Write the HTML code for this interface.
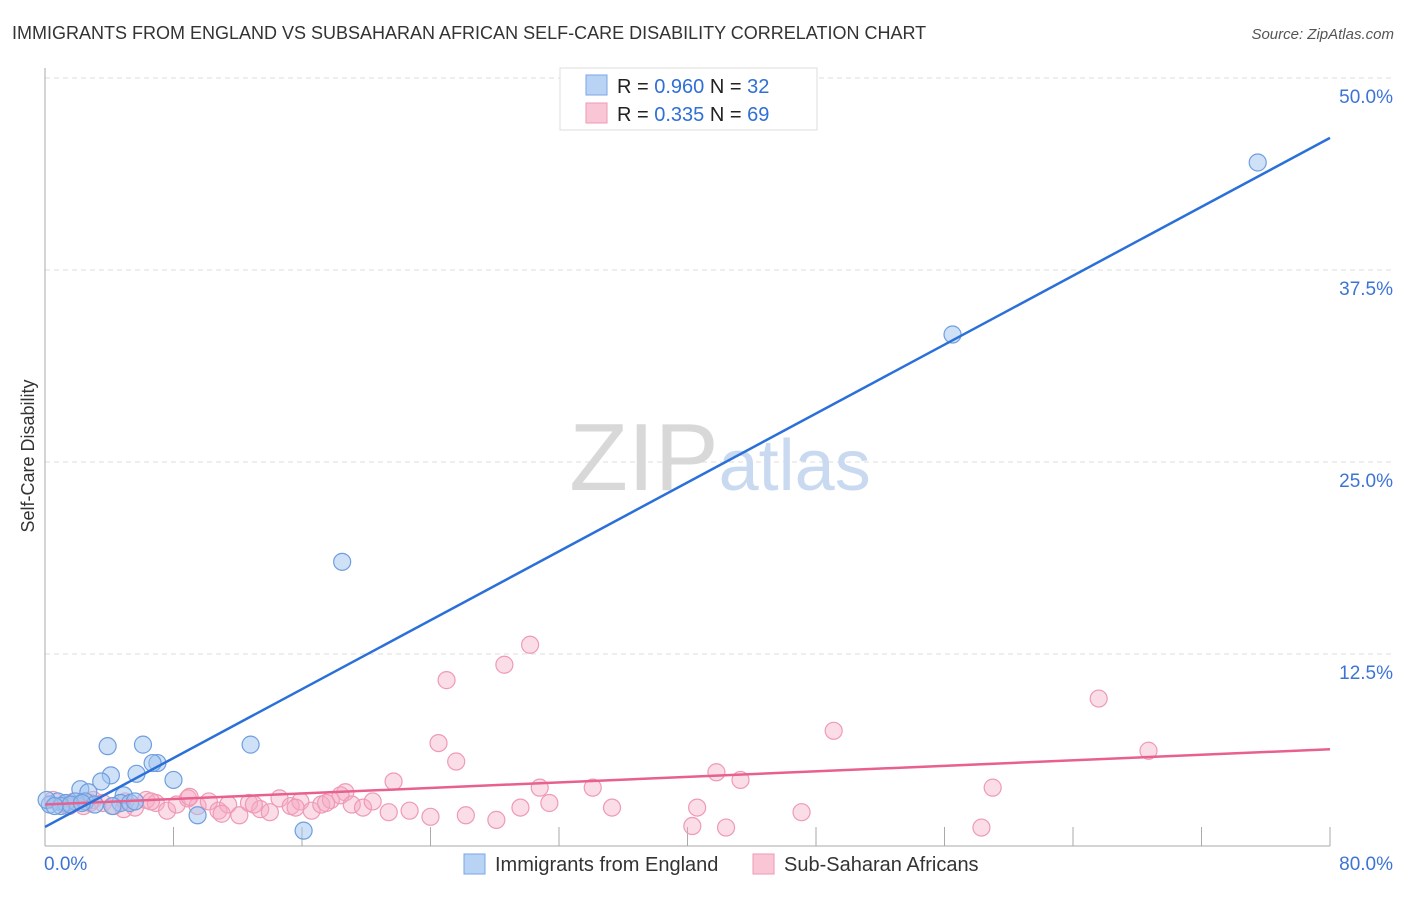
<!DOCTYPE html>
<html><head><meta charset="utf-8"><style>
body{margin:0;background:#fff;font-family:"Liberation Sans",sans-serif}
svg text{font-family:"Liberation Sans",sans-serif}
</style></head><body>
<svg id="chart" width="1406" height="892" xmlns="http://www.w3.org/2000/svg">
<text x="12" y="39" font-size="18" fill="#333">IMMIGRANTS FROM ENGLAND VS SUBSAHARAN AFRICAN SELF-CARE DISABILITY CORRELATION CHART</text>
<text x="1394" y="39" font-size="15" fill="#555" font-style="italic" text-anchor="end">Source: ZipAtlas.com</text>
<g id="grid"></g>
<g id="axes"></g>
<text x="720" y="490" font-size="96" fill="#ddd" text-anchor="middle" font-family="Liberation Serif"><tspan fill="#d8d8d8">ZIP</tspan><tspan fill="#c9daf0" font-family="Liberation Sans" font-size="72">atlas</tspan></text>
<g id="marks"></g>
<text x="34" y="456" font-size="18" fill="#333" text-anchor="middle" transform="rotate(-90 34 456)">Self-Care Disability</text>
<g>
<rect x="560" y="68" width="257" height="62" fill="#fff" stroke="#ddd"/>
<rect x="586" y="75" width="21" height="20" fill="#b9d3f5" stroke="#7aa6e6"/>
<text x="617" y="93" font-size="20" fill="#222">R = <tspan fill="#2f6fd6">0.960</tspan>   N = <tspan fill="#2f6fd6">32</tspan></text>
<rect x="586" y="103" width="21" height="20" fill="#f9c6d6" stroke="#ee99b4"/>
<text x="617" y="121" font-size="20" fill="#222">R = <tspan fill="#2f6fd6"> 0.335</tspan>   N = <tspan fill="#2f6fd6">69</tspan></text>
</g>
<g>
<rect x="464" y="854" width="21" height="20" fill="#b9d3f5" stroke="#7aa6e6"/>
<text x="495" y="871" font-size="20" fill="#333">Immigrants from England</text>
<rect x="753" y="854" width="21" height="20" fill="#f9c6d6" stroke="#ee99b4"/>
<text x="784" y="871" font-size="20" fill="#333">Sub-Saharan Africans</text>
</g>
</svg>
<script>
const yTicks=[12.5,25,37.5,50];
const yTickLabels=["12.5%","25.0%","37.5%","50.0%"];
const xTicks=[8,16,24,32,40,48,56,64,72,80];
const englandX=[75.5,56.5,18.5,12.8,3.9,6.1,7.0,6.7,5.7,4.1,8.0,3.5,2.2,4.9,2.7,9.5,16.1,0.8,1.3,1.9,2.5,4.7,0.3,0.1,1.0,3.1,5.3,1.6,0.6,2.3,4.2,5.6];
const englandY=[44.5,33.3,18.5,6.6,6.5,6.6,5.4,5.4,4.7,4.6,4.3,4.2,3.7,3.3,3.5,2.0,1.0,2.9,2.8,2.9,2.9,2.8,2.7,3.0,2.6,2.7,2.8,2.7,2.6,2.8,2.6,2.9];
const africanX=[30.2,28.6,25.0,65.6,49.1,24.5,68.7,25.6,41.8,43.3,21.7,59.0,30.8,34.1,18.7,40.6,35.3,31.4,47.1,29.6,26.2,28.1,24.0,40.3,42.4,58.3,22.7,21.4,0.5,1.2,1.8,2.4,3.0,3.6,4.3,5.0,5.6,6.3,6.9,7.6,8.2,8.9,9.5,10.2,10.8,11.4,12.1,12.7,13.4,14.0,14.6,15.3,15.9,16.6,17.2,17.8,18.4,19.1,19.8,20.4,1.5,2.8,4.9,6.6,9.0,11.0,13.0,15.6,17.5];
const africanY=[13.1,11.8,10.8,9.6,7.5,6.7,6.2,5.5,4.8,4.3,4.2,3.8,3.8,3.8,3.5,2.5,2.5,2.8,2.2,2.5,2.0,1.7,1.9,1.3,1.2,1.2,2.3,2.2,3.0,2.7,2.9,2.6,3.0,2.8,2.6,2.9,2.5,3.0,2.8,2.3,2.7,3.1,2.6,2.9,2.3,2.7,2.0,2.8,2.4,2.2,3.1,2.6,2.9,2.3,2.7,3.0,3.3,2.7,2.5,2.9,2.6,2.8,2.4,2.9,3.2,2.1,2.7,2.5,2.8];
const englandTrend=[1.24,46.1];
const africanTrend=[2.7,6.3];
const X0=45,X1=1330,Y0=846,Y1=78;
const sx=v=>X0+(X1-X0)*v/80;
const sy=v=>Y0-(Y0-Y1)*v/50;
const NS="http://www.w3.org/2000/svg";
function mk(tag,attrs,parent){const e=document.createElementNS(NS,tag);for(const k in attrs)e.setAttribute(k,attrs[k]);document.getElementById(parent).appendChild(e);return e;}
yTicks.forEach((t,i)=>{
const l=mk('line',{x1:X0,x2:1394,y1:sy(t),y2:sy(t),stroke:'#ddd','stroke-dasharray':'5,4'},'grid');


const tx=mk('text',{x:1393,y:sy(t)+25,'font-size':19,fill:'#3d74d4','text-anchor':'end'},'grid');
tx.textContent=yTickLabels[i];


});
let a=mk('line',{x1:X0,x2:X0,y1:68,y2:Y0,stroke:'#aaa'},'axes');


a=mk('line',{x1:X0,x2:X1,y1:Y0,y2:Y0,stroke:'#aaa'},'axes');


xTicks.forEach(t=>{const l=mk('line',{x1:sx(t),x2:sx(t),y1:Y0,y2:Y0-19,stroke:'#aaa'},'axes');

});
let t0=mk('text',{x:44,y:870,'font-size':19,fill:'#3d74d4'},'axes');t0.textContent='0.0%';


t0=mk('text',{x:1393,y:870,'font-size':19,fill:'#3d74d4','text-anchor':'end'},'axes');t0.textContent='80.0%';


africanX.forEach((x,i)=>{const c=mk('circle',{cx:sx(x),cy:sy(africanY[i]),r:8.5,fill:'rgba(246,170,195,0.4)',stroke:'#ef9ab5','stroke-width':1.2},'marks');

});
englandX.forEach((x,i)=>{const c=mk('circle',{cx:sx(x),cy:sy(englandY[i]),r:8.5,fill:'rgba(160,196,240,0.5)',stroke:'#6f9ee0','stroke-width':1.2},'marks');

});
let tl=mk('line',{x1:sx(0),y1:sy(africanTrend[0]),x2:sx(80),y2:sy(africanTrend[1]),stroke:'#e8608e','stroke-width':2.5},'marks');


tl=mk('line',{x1:sx(0),y1:sy(englandTrend[0]),x2:sx(80),y2:sy(englandTrend[1]),stroke:'#2a70d8','stroke-width':2.5},'marks');


</script>
</body></html>
